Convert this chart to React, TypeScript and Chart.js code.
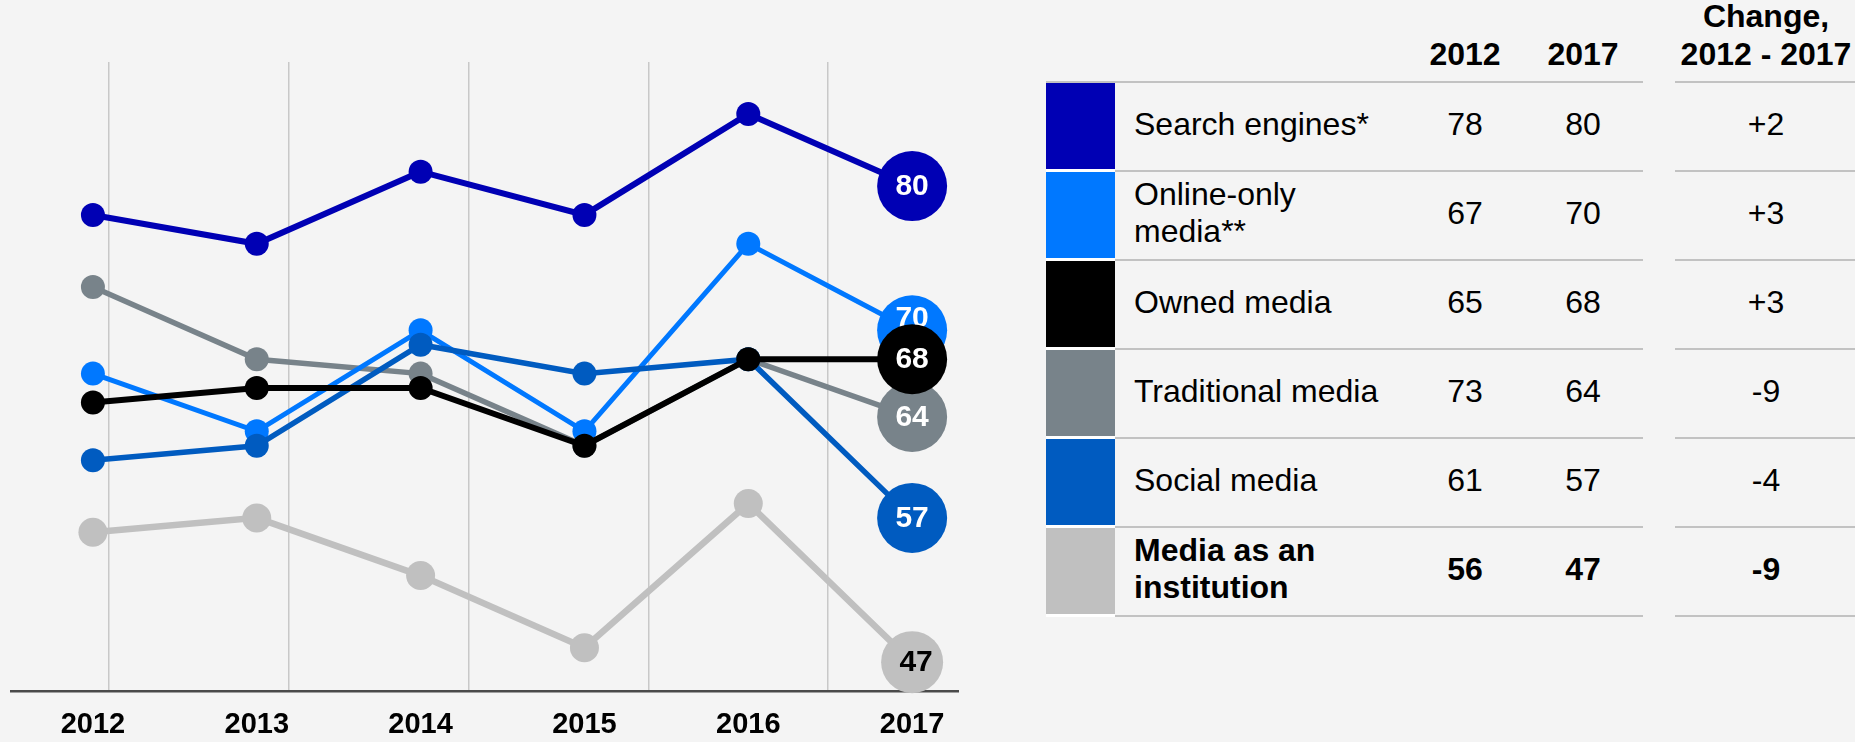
import React, { useEffect, useRef } from 'react';
import { Chart, registerables } from 'chart.js';

Chart.register(...registerables);

// ---------- data ----------
const years = [2012, 2013, 2014, 2015, 2016, 2017];
const seriesNames = [
  'Search engines*',
  'Online-only\nmedia**',
  'Owned media',
  'Traditional media',
  'Social media',
  'Media as an\ninstitution',
];
const searchEngines = [78, 76, 81, 78, 85, 80];
const onlineOnlyMedia = [67, 63, 70, 63, 76, 70];
const ownedMedia = [65, 66, 66, 62, 68, 68];
const traditionalMedia = [73, 68, 67, 62, 68, 64];
const socialMedia = [61, 62, 69, 67, 68, 57];
const mediaInstitution = [56, 57, 53, 48, 58, 47];
const seriesColors = ['#0000b4', '#0078ff', '#000000', '#78838a', '#005bc0', '#c0c0c0'];
const lineWidths = [6, 5, 6, 5.5, 5.5, 6.5];
const labelColors = ['#ffffff', '#ffffff', '#ffffff', '#ffffff', '#ffffff', '#000000'];
const labelShiftX = [0, 0, 0, 0, 0, 4];
const labelShiftY = [0, -13, 0, 0, 0, 0];
const drawOrder = [4, 2, 0, 3, 1, 5];
const tableYearHeaders = ['2012', '2017'];
const changeHeader = ['Change,', '2012 - 2017'];
const values2012 = [78, 67, 65, 73, 61, 56];
const values2017 = [80, 70, 68, 64, 57, 47];

const seriesData = [searchEngines, onlineOnlyMedia, ownedMedia, traditionalMedia, socialMedia, mediaInstitution];

const FONT = '"Liberation Sans", Arial, Helvetica, sans-serif';

const bubbleLabels = {
  id: 'bubbleLabels',
  afterDatasetDraw(chart: any, args: any) {
    const meta = args.meta;
    const ds = chart.data.datasets[args.index];
    const pts = meta.data;
    const last = pts[pts.length - 1];
    if (!last) return;
    const ctx = chart.ctx;
    ctx.save();
    ctx.font = `bold 30px ${FONT}`;
    ctx.fillStyle = labelColors[args.index];
    ctx.textAlign = 'center';
    ctx.textBaseline = 'middle';
    ctx.fillText(
      String(ds.data[ds.data.length - 1]),
      last.x + labelShiftX[args.index],
      last.y + 1 + labelShiftY[args.index]
    );
    ctx.restore();
  },
};

function zeroPad(axis: any) {
  axis.paddingLeft = 0;
  axis.paddingRight = 0;
  axis.paddingTop = 0;
  axis.paddingBottom = 0;
}

function LineChart() {
  const ref = useRef<HTMLCanvasElement | null>(null);
  useEffect(() => {
    if (!ref.current) return;
    const datasets = seriesData.map((d, i) => {
      const isInst = i === 5;
      const small = isInst ? 14.5 : 12;
      const big = isInst ? 31 : 35;
      return {
        label: seriesNames[i].replace('\n', ' '),
        data: d,
        borderColor: seriesColors[i],
        backgroundColor: seriesColors[i],
        pointBackgroundColor: seriesColors[i],
        pointBorderWidth: 0,
        borderWidth: lineWidths[i],
        pointRadius: d.map((_, j) => (j === d.length - 1 ? big : small)),
        pointHoverRadius: d.map((_, j) => (j === d.length - 1 ? big : small)),
        tension: 0,
        clip: false as any,
        order: drawOrder[i],
      };
    });
    const chart = new Chart(ref.current, {
      type: 'line',
      data: { labels: years, datasets },
      options: {
        animation: false,
        responsive: false,
        events: [],
        layout: { autoPadding: false, padding: { left: 11, right: 42, top: 62, bottom: 0 } },
        plugins: { legend: { display: false }, tooltip: { enabled: false } },
        scales: {
          x: {
            type: 'linear',
            position: 'bottom',
            min: years[0] - 0.5,
            max: years[years.length - 1] + 0.28,
            afterBuildTicks: (axis: any) => {
              axis.ticks = years.map((y) => ({ value: y }));
            },
            afterFit: (axis: any) => {
              zeroPad(axis);
              axis.height = 51;
            },
            grid: { display: false, drawTicks: false },
            border: { display: true, color: '#4a4a4a', width: 2.5 },
            ticks: {
              padding: 17,
              color: '#000',
              maxRotation: 0,
              autoSkip: false,
              font: { family: FONT, size: 29, weight: 'bold' },
              callback: (v: any) => String(v),
            },
          },
          xGrid: {
            type: 'linear',
            position: 'top',
            min: -0.545,
            max: 4.723,
            afterBuildTicks: (axis: any) => {
              axis.ticks = [0, 1, 2, 3, 4].map((v) => ({ value: v }));
            },
            afterFit: (axis: any) => {
              zeroPad(axis);
              axis.height = 0;
            },
            grid: { display: true, color: '#c8c8c8', lineWidth: 1.5, drawTicks: false },
            border: { display: false },
            ticks: { display: false },
          },
          y: {
            display: false,
            min: 45,
            max: 88.6,
          },
        },
      } as any,
      plugins: [bubbleLabels],
    });
    return () => chart.destroy();
  }, []);
  return (
    <canvas
      ref={ref}
      width={1000}
      height={742}
      style={{ position: 'absolute', left: 0, top: 0, width: 1000, height: 742 }}
    />
  );
}

const ROW_TOP = 81;
const ROW_H = 89;
const LINE_COLOR = '#c2c2c2';
const COL_2012 = 1465;
const COL_2017 = 1583;
const COL_CHANGE = 1766;
const TEXT_SHIFT = -3;

function centered(x: number, top: number, h: number, text: string, bold: boolean) {
  return (
    <div
      style={{
        position: 'absolute',
        left: x - 90,
        width: 180,
        top: top + TEXT_SHIFT,
        height: h,
        display: 'flex',
        alignItems: 'center',
        justifyContent: 'center',
        fontFamily: FONT,
        fontSize: 32,
        fontWeight: bold ? 'bold' : 'normal',
        color: '#000',
        whiteSpace: 'nowrap',
      }}
    >
      {text}
    </div>
  );
}

function Table() {
  const fmt = (n: number) => (n > 0 ? '+' + n : String(n));
  return (
    <>
      {centered(COL_2012, 38, 38, tableYearHeaders[0], true)}
      {centered(COL_2017, 38, 38, tableYearHeaders[1], true)}
      {centered(COL_CHANGE, 0, 38, changeHeader[0], true)}
      {centered(COL_CHANGE, 38, 38, changeHeader[1], true)}
      <div style={{ position: 'absolute', left: 1046, top: ROW_TOP, width: 1643 - 1046, height: 2, background: LINE_COLOR }} />
      <div style={{ position: 'absolute', left: 1675, top: ROW_TOP, width: 180, height: 2, background: LINE_COLOR }} />
      <div style={{ position: 'absolute', left: 1046, top: ROW_TOP + 2, width: 69, height: ROW_H * 6, background: '#ffffff' }} />
      {seriesNames.map((name, i) => {
        const top = ROW_TOP + ROW_H * i;
        const bold = i === seriesNames.length - 1;
        return (
          <React.Fragment key={name}>
            <div style={{ position: 'absolute', left: 1046, top: top + 2, width: 69, height: ROW_H - 3, background: seriesColors[i] }} />
            <div style={{ position: 'absolute', left: 1115, top: top + ROW_H, width: 1643 - 1115, height: 2, background: LINE_COLOR }} />
            <div style={{ position: 'absolute', left: 1675, top: top + ROW_H, width: 180, height: 2, background: LINE_COLOR }} />
            <div
              style={{
                position: 'absolute',
                left: 1134,
                top: top + 2 + TEXT_SHIFT,
                height: ROW_H - 1,
                width: 300,
                display: 'flex',
                alignItems: 'center',
                fontFamily: FONT,
                fontSize: 32,
                lineHeight: '37px',
                fontWeight: bold ? 'bold' : 'normal',
                color: '#000',
                whiteSpace: 'pre-line',
              }}
            >
              {name}
            </div>
            {centered(COL_2012, top + 2, ROW_H - 1, String(values2012[i]), bold)}
            {centered(COL_2017, top + 2, ROW_H - 1, String(values2017[i]), bold)}
            {centered(COL_CHANGE, top + 2, ROW_H - 1, fmt(values2017[i] - values2012[i]), bold)}
          </React.Fragment>
        );
      })}
    </>
  );
}

export default function App() {
  return (
    <div
      style={{
        position: 'fixed',
        left: 0,
        top: 0,
        width: 1855,
        height: 742,
        overflow: 'hidden',
        background: '#f4f4f4',
      }}
    >
      <LineChart />
      <Table />
    </div>
  );
}
